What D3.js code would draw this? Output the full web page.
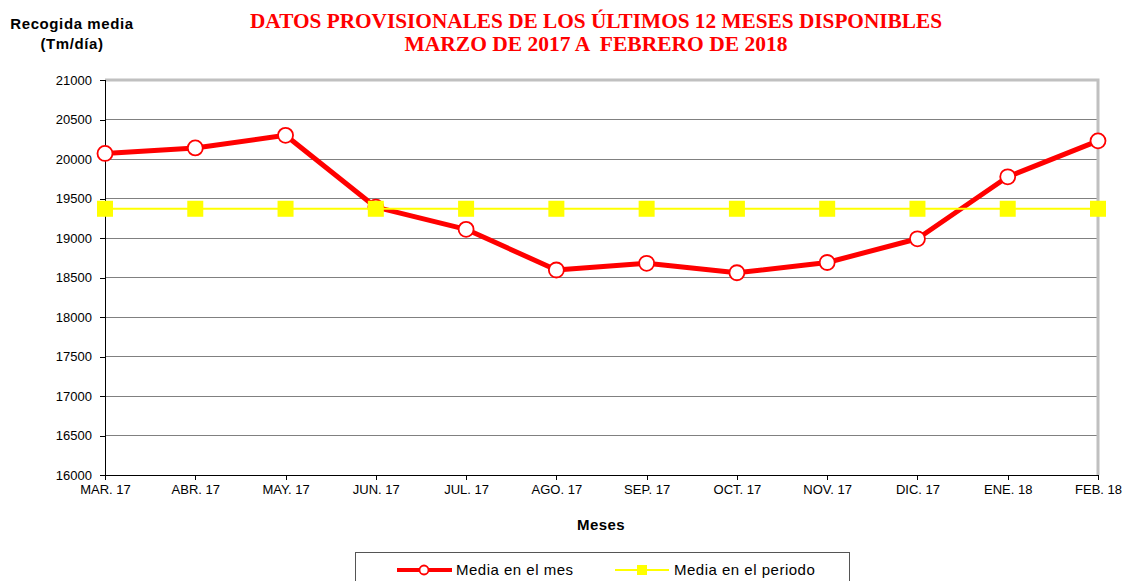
<!DOCTYPE html>
<html>
<head>
<meta charset="utf-8">
<script src="https://cdn.jsdelivr.net/npm/d3@7/dist/d3.min.js"></script>
<style>
  html, body { margin: 0; padding: 0; background: #fff; }
  svg { display: block; }
</style>
</head>
<body>
<svg id="chart" width="1124" height="581"></svg>
<script>
// Monthly average collection (Tm/día), March 2017 – February 2018
const months = ["MAR. 17", "ABR. 17", "MAY. 17", "JUN. 17", "JUL. 17", "AGO. 17",
                "SEP. 17", "OCT. 17", "NOV. 17", "DIC. 17", "ENE. 18", "FEB. 18"];
const monthMean = [20070, 20140, 20300, 19390, 19110, 18595,
                   18680, 18560, 18690, 18990, 19775, 20230];
const periodMean = [19370, 19370, 19370, 19370, 19370, 19370,
                    19370, 19370, 19370, 19370, 19370, 19370];
const yTicks = [16000, 16500, 17000, 17500, 18000, 18500, 19000, 19500, 20000, 20500, 21000];

const sans = "Arial, 'Liberation Sans', sans-serif";
const svg = d3.select("#chart");
const plot = { left: 105, right: 1098, top: 80, bottom: 475 };

const x = d3.scalePoint().domain(months).range([plot.left, plot.right]);
const y = d3.scaleLinear().domain([16000, 21000]).range([plot.bottom, plot.top]);

// Horizontal gridlines
svg.append("g").selectAll("line")
  .data(yTicks.filter(t => t > 16000 && t < 21000))
  .join("line")
  .attr("x1", plot.left).attr("x2", plot.right)
  .attr("y1", d => y(d)).attr("y2", d => y(d))
  .attr("stroke", "#808080").attr("stroke-width", 1).attr("shape-rendering", "crispEdges");

// Plot frame: grey top and right edges
svg.append("path")
  .attr("d", `M${plot.left},${plot.top}H${plot.right}V${plot.bottom}`)
  .attr("fill", "none").attr("stroke", "#c0c0c0").attr("stroke-width", 3);

// Y axis
const yAxis = svg.append("g")
  .attr("transform", `translate(${plot.left},0)`)
  .call(d3.axisLeft(y).tickValues(yTicks).tickFormat(d3.format("d")).tickSize(5).tickPadding(8));
yAxis.select(".domain").attr("stroke", "#000").attr("shape-rendering", "crispEdges");
yAxis.selectAll(".tick line").attr("stroke", "#000").attr("shape-rendering", "crispEdges");
yAxis.selectAll("text").attr("font-family", sans).attr("font-size", 13).attr("fill", "#000");

// X axis
const xAxis = svg.append("g")
  .attr("transform", `translate(0,${plot.bottom})`)
  .call(d3.axisBottom(x).tickSize(5).tickSizeOuter(0).tickPadding(5));
xAxis.select(".domain").attr("stroke", "#000").attr("shape-rendering", "crispEdges");
xAxis.selectAll(".tick line").attr("stroke", "#000").attr("shape-rendering", "crispEdges");
xAxis.selectAll("text").attr("font-family", sans).attr("font-size", 13).attr("fill", "#000");

// Monthly average series
svg.append("path")
  .datum(monthMean)
  .attr("fill", "none").attr("stroke", "#ff0000").attr("stroke-width", 5)
  .attr("stroke-linejoin", "round")
  .attr("d", d3.line().x((d, i) => x(months[i])).y(d => y(d)));
svg.append("g").selectAll("circle")
  .data(monthMean)
  .join("circle")
  .attr("cx", (d, i) => x(months[i])).attr("cy", d => y(d)).attr("r", 7.5)
  .attr("fill", "#fff").attr("stroke", "#ff0000").attr("stroke-width", 1.8);

// Period average series (drawn above the monthly series)
svg.append("path")
  .datum(periodMean)
  .attr("fill", "none").attr("stroke", "#ffff00").attr("stroke-width", 2)
  .attr("d", d3.line().x((d, i) => x(months[i])).y(d => y(d)));
svg.append("g").selectAll("rect")
  .data(periodMean)
  .join("rect")
  .attr("x", (d, i) => x(months[i]) - 8).attr("y", d => y(d) - 8)
  .attr("width", 16).attr("height", 16).attr("fill", "#ffff00");

// Y axis title
const yTitle = svg.append("text")
  .attr("font-family", sans).attr("font-size", 15).attr("letter-spacing", 0.6)
  .attr("font-weight", "bold").attr("text-anchor", "middle").attr("fill", "#000");
yTitle.append("tspan").attr("x", 72).attr("y", 29).text("Recogida media");
yTitle.append("tspan").attr("x", 72).attr("y", 49).text("(Tm/día)");

// Chart title
const title = svg.append("text")
  .attr("font-family", "'Liberation Serif', 'Times New Roman', serif")
  .attr("font-size", 20).attr("font-weight", "bold").attr("text-anchor", "middle").attr("fill", "#ff0000");
title.append("tspan").attr("x", 596).attr("y", 28)
  .attr("textLength", 692).attr("lengthAdjust", "spacingAndGlyphs")
  .text("DATOS PROVISIONALES DE LOS ÚLTIMOS 12 MESES DISPONIBLES");
title.append("tspan").attr("x", 596).attr("y", 51)
  .attr("textLength", 383).attr("lengthAdjust", "spacingAndGlyphs")
  .attr("xml:space", "preserve")
  .text("MARZO DE 2017 A  FEBRERO DE 2018");

// X axis title
svg.append("text")
  .attr("x", 601).attr("y", 530)
  .attr("font-family", sans).attr("font-size", 15).attr("letter-spacing", 0.4)
  .attr("font-weight", "bold").attr("text-anchor", "middle").attr("fill", "#000")
  .text("Meses");

// Legend
const legend = svg.append("g");
legend.append("rect")
  .attr("x", 355.5).attr("y", 552.5).attr("width", 494).attr("height", 40)
  .attr("fill", "#fff").attr("stroke", "#555").attr("stroke-width", 1);
const ly = 570;
legend.append("line").attr("x1", 397).attr("x2", 452).attr("y1", ly).attr("y2", ly)
  .attr("stroke", "#ff0000").attr("stroke-width", 4);
legend.append("circle").attr("cx", 424).attr("cy", ly).attr("r", 4.5)
  .attr("fill", "#fff").attr("stroke", "#ff0000").attr("stroke-width", 1.8);
legend.append("text").attr("x", 456).attr("y", ly + 5)
  .attr("font-family", sans).attr("font-size", 15).attr("letter-spacing", 0.5).attr("fill", "#000")
  .text("Media en el mes");
legend.append("line").attr("x1", 615).attr("x2", 669).attr("y1", ly).attr("y2", ly)
  .attr("stroke", "#ffff00").attr("stroke-width", 2);
legend.append("rect").attr("x", 637).attr("y", ly - 5).attr("width", 10).attr("height", 10)
  .attr("fill", "#ffff00");
legend.append("text").attr("x", 674).attr("y", ly + 5)
  .attr("font-family", sans).attr("font-size", 15).attr("letter-spacing", 0.5).attr("fill", "#000")
  .text("Media en el periodo");
</script>
</body>
</html>
